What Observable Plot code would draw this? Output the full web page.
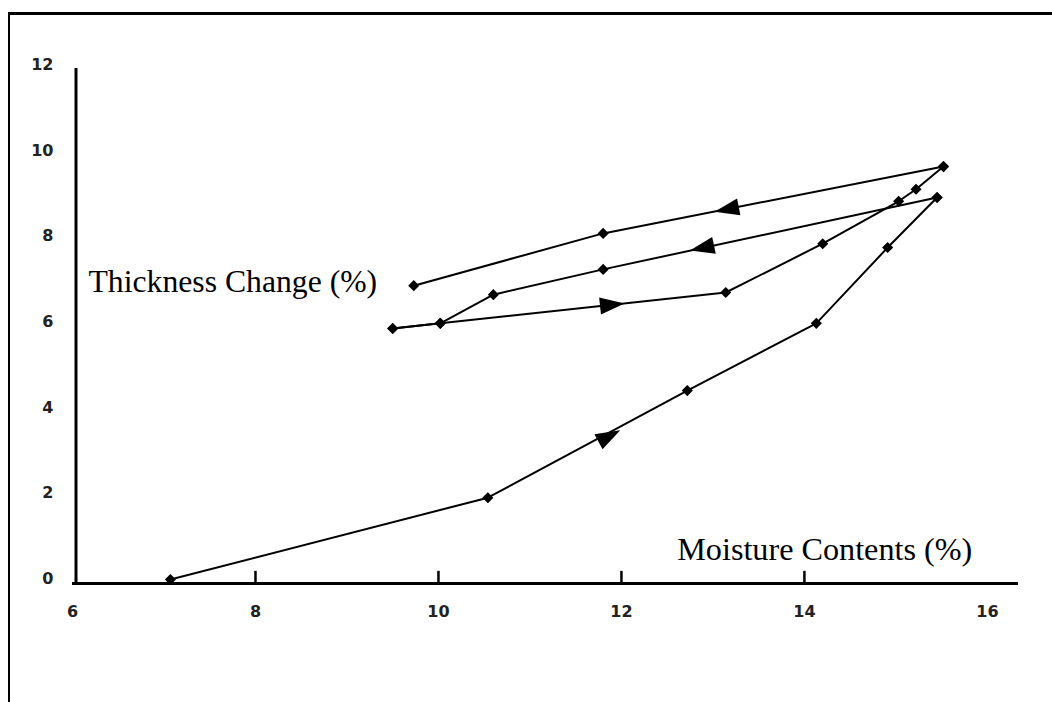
<!DOCTYPE html>
<html>
<head>
<meta charset="utf-8">
<script src="https://cdn.jsdelivr.net/npm/d3@7"></script>
<script src="https://cdn.jsdelivr.net/npm/@observablehq/plot@0.6"></script>
<style>
  html, body { margin: 0; padding: 0; background: #fff; }
  #wrap { position: relative; width: 1052px; height: 702px; overflow: hidden; background: #fff; }
  #frame { position: absolute; left: 8px; top: 12px; right: -4px; bottom: -4px;
           border-top: 3px solid #000; border-left: 2px solid #000; pointer-events: none; }
  #chart { position: absolute; left: 0; top: 0; }
</style>
</head>
<body>
<div id="wrap"><div id="chart"></div><div id="frame"></div></div>
<script>
// ---- data ----
const xTicks = [6, 8, 10, 12, 14, 16];
const xInnerTicks = [8, 10, 12, 14];
const yTicks = [0, 2, 4, 6, 8, 10, 12];

const wetting1Moisture  = [7.07, 10.54, 12.72, 14.13, 14.91, 15.45];
const wetting1Thickness = [0.07, 1.98, 4.48, 6.05, 7.82, 8.99];

const drying1Moisture   = [15.45, 11.80, 10.60, 10.02, 9.50];
const drying1Thickness  = [8.99, 7.31, 6.72, 6.05, 5.93];

const wetting2Moisture  = [9.50, 10.02, 13.14, 14.20, 15.03, 15.22, 15.52];
const wetting2Thickness = [5.93, 6.05, 6.77, 7.91, 8.90, 9.18, 9.71];

const drying2Moisture   = [15.52, 11.80, 9.73];
const drying2Thickness  = [9.71, 8.15, 6.93];

// arrow heads: position and direction of travel (data units)
const arrowX  = [11.85, 12.90, 11.88, 13.17];
const arrowY  = [3.4, 7.82, 6.48, 8.72];
const arrowDX = [2.18, -3.65, 3.12, -3.72];
const arrowDY = [2.5, -1.68, 0.72, -1.56];

const axisTitles = ["Thickness Change (%)", "Moisture Contents (%)"];
const titleX = [6.175, 12.61];
const titleY = [7.03, 0.775];
const titleSize = [31.7, 32.2];

// ---- build tables ----
const series = [
  ["Wetting 1", wetting1Moisture, wetting1Thickness],
  ["Drying 1", drying1Moisture, drying1Thickness],
  ["Wetting 2", wetting2Moisture, wetting2Thickness],
  ["Drying 2", drying2Moisture, drying2Thickness]
];
const pts = series.flatMap(([name, xs, ys]) => xs.map((x, i) => ({name, x, y: ys[i]})));

const W = 1052, H = 702;
const mL = 72, mR = 34, mT = 68, mB = 120;
const xDomain = [6, 16.34], yDomain = [0, 12];
const kx = (W - mL - mR) / (xDomain[1] - xDomain[0]);
const ky = (H - mT - mB) / (yDomain[1] - yDomain[0]);

const arrows = arrowX.map((x, i) => ({
  x, y: arrowY[i],
  rot: Math.atan2(arrowDX[i] * kx, arrowDY[i] * ky) * 180 / Math.PI
}));
const titles = axisTitles.map((t, i) => ({t, x: titleX[i], y: titleY[i], s: titleSize[i]}));

// elongated arrowhead symbol pointing up (rotated per datum)
const arrowHead = {
  draw(ctx, size) {
    const r = Math.sqrt(size / Math.PI);
    ctx.moveTo(0, -1.5 * r);
    ctx.lineTo(0.9 * r, 1.1 * r);
    ctx.lineTo(-0.9 * r, 1.1 * r);
    ctx.closePath();
  }
};

const tickFont = {fontSize: 16, fontWeight: "bold", fontFamily: "DejaVu Sans, Arial, sans-serif", fill: "#222", stroke: "none"};

const plot = Plot.plot({
  width: W, height: H,
  marginLeft: mL, marginRight: mR, marginTop: mT, marginBottom: mB,
  style: {background: "transparent", color: "#000"},
  x: {domain: xDomain, axis: null},
  y: {domain: yDomain, axis: null},
  marks: [
    // tick labels (through the scales)
    Plot.text(yTicks, {x: xDomain[0], y: d => d, text: d => String(d), textAnchor: "end", dx: -19, dy: -3.5, ...tickFont}),
    Plot.text(xTicks, {x: d => d, y: yDomain[0], text: d => String(d), dy: 29, ...tickFont}),
    // axis lines and inner tick marks
    Plot.ruleX([xDomain[0]], {y1: yDomain[0], y2: yDomain[1], dx: 3.5, stroke: "#000", strokeWidth: 3}),
    Plot.ruleY([yDomain[0]], {x1: xDomain[0], x2: xDomain[1], dy: 1, stroke: "#000", strokeWidth: 3}),
    Plot.ruleX(xInnerTicks, {y1: 0, y2: 0.26, stroke: "#000", strokeWidth: 2.5}),
    // data
    Plot.line(pts, {x: "x", y: "y", z: "name", stroke: "#000", strokeWidth: 2, curve: "linear"}),
    Plot.dot(pts, {x: "x", y: "y", symbol: "diamond2", r: 5, fill: "#000", stroke: "none"}),
    Plot.dot(arrows, {x: "x", y: "y", symbol: arrowHead, r: 9.5, fill: "#000", stroke: "none", rotate: "rot"}),
    ...titles.map(d => Plot.text([d], {x: "x", y: "y", text: "t", textAnchor: "start", fontSize: d.s,
      fontFamily: "Liberation Serif, Times New Roman, serif", fill: "#000"}))
  ]
});
document.getElementById("chart").appendChild(plot);
</script>
</body>
</html>
